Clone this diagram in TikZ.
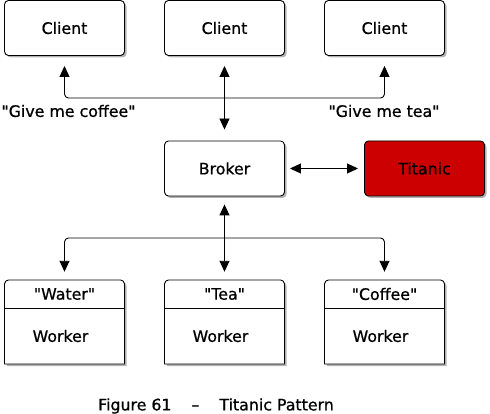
\documentclass[tikz,border=0pt]{standalone}
\usepackage{fontspec}
\newfontfamily\dvs{DejaVu Sans}[RawFeature={embolden=0.8}]
\usetikzlibrary{arrows.meta,shadows,positioning}
\begin{document}
\begin{tikzpicture}[x=1pt,y=-1pt,
  font=\dvs\fontsize{15.8}{17}\selectfont,
  shad/.style={drop shadow={shadow xshift=2pt,shadow yshift=-2pt,fill=black!50,opacity=0.6}},
  box/.style={draw=black,line width=0.9pt,fill=white,rounded corners=4pt,minimum width=120pt,minimum height=55pt,inner sep=0pt,shad},
  redbox/.style={box,fill={rgb,255:red,204;green,0;blue,0}},
  conn/.style={line width=0.9pt,rounded corners=4pt,
    {Triangle[length=11pt,width=10pt]}-{Triangle[length=11pt,width=10pt]}},
  lbl/.style={inner sep=0pt}
]
\useasboundingbox (0,0) rectangle (490,414);
% clients
\node[box] (c1) at (64.5,28) {Client};
\node[box] (c2) at (224.5,28) {Client};
\node[box] (c3) at (384.5,28) {Client};
% broker / titanic
\node[box] (broker) at (224.5,168.5) {Broker};
\node[redbox] (titanic) at (424.5,168.5) {Titanic};
% workers (top corners rounded)
\foreach \n/\x/\t in {w1/64.5/Water, w2/224.5/Tea, w3/384.5/Coffee}{
  \path[shad,fill=white,draw=black,line width=0.9pt]
    (\x-60,364) -- (\x-60,284) arc[start angle=180,end angle=270,radius=4] -- (\x+56,280)
    arc[start angle=270,end angle=360,radius=4] -- (\x+60,364) -- cycle;
  \node[minimum width=120pt,minimum height=84pt,inner sep=0pt] (\n) at (\x,322) {};
  \draw[line width=0.9pt] (\x-60,308) -- (\x+60,308);
  \node[lbl] (\n t) at (\x,294) {"\t"};
  \node[lbl] (\n w) at (\x-4,336) {Worker};
}
% hub coordinates
\coordinate (tophub) at (224.5,98);
\coordinate (bothub) at (224.5,238);
% connectors
\draw[conn,shorten <=11pt,shorten >=10pt] (broker.north) -- (c2.south);
\draw[conn,shorten <=10pt,shorten >=10pt] (c1.south) |- (tophub) -| (c3.south);
\draw[conn,shorten <=6pt,shorten >=5pt] (titanic.west) -- (broker.east);
\draw[conn,shorten <=8pt,shorten >=8pt] (broker.south) -- (w2.north);
\draw[conn,shorten <=8pt,shorten >=8pt] (w1.north) |- (bothub) -| (w3.north);
% labels
\node[lbl] (l1) at (68.5,111) {"Give me coffee"};
\node[lbl] (l2) at (384,111) {"Give me tea"};
\node[lbl] (cap) at (216,406) {Figure 61\hspace{20pt}–\hspace{20pt}Titanic Pattern};
\end{tikzpicture}
\end{document}
